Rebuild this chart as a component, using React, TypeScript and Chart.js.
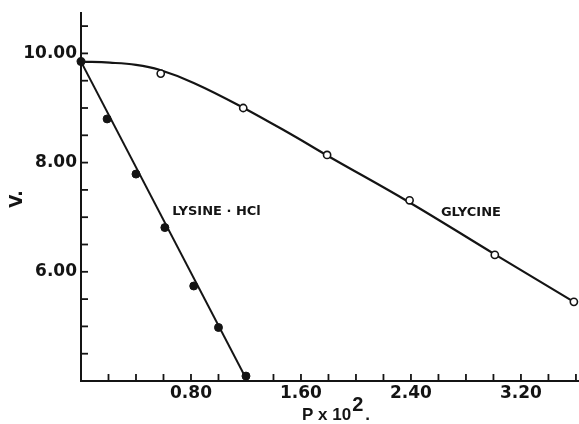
import React, { useEffect, useRef } from "react";
import { Chart, registerables } from "chart.js";

Chart.register(...registerables);

// ---- data ----
const lysineX = [0, 0.19, 0.4, 0.61, 0.82, 1.0, 1.2];
const lysineY = [9.85, 8.8, 7.79, 6.81, 5.74, 4.98, 4.09];
const lysineLineX = [0, 1.21];
const lysineLineY = [9.85, 4.0];

const glycineX = [0.58, 1.18, 1.79, 2.39, 3.01, 3.585];
const glycineY = [9.63, 9.0, 8.14, 7.31, 6.31, 5.45];
const glycineCurveX = [0, 0.21, 0.4, 0.57, 0.82, 1.17, 1.54, 1.79, 2.39, 3.01, 3.585];
const glycineCurveY = [9.85, 9.83, 9.79, 9.7, 9.46, 9.02, 8.5, 8.13, 7.27, 6.32, 5.45];

const xTickValues = [0.2, 0.4, 0.6, 0.8, 1.0, 1.2, 1.4, 1.6, 1.8, 2.0, 2.2, 2.4, 2.6, 2.8, 3.0, 3.2, 3.4, 3.6];
const xLabelValues = [0.8, 1.6, 2.4, 3.2];
const yTickValues = [4.5, 5.0, 5.5, 6.0, 6.5, 7.0, 7.5, 8.0, 8.5, 9.0, 9.5, 10.0, 10.5];
const yLabelValues = [6, 8, 10];

const annotationTexts = ["LYSINE · HCl", "GLYCINE"];
const annotationX = [0.986, 2.836];
const annotationY = [7.1, 7.09];

const INK = "#141414";
const FONT = "DejaVu Sans";

const near = (list: number[], v: number) => list.some((t) => Math.abs(t - v) < 1e-6);
const pts = (xs: number[], ys: number[]) => xs.map((x, i) => ({ x, y: ys[i] }));

const decorPlugin = {
  id: "decor",
  afterDraw(chart: any) {
    const ctx = chart.ctx;
    const xs = chart.scales.x;
    const ys = chart.scales.y;
    const area = chart.chartArea;
    ctx.save();
    ctx.strokeStyle = INK;
    ctx.lineWidth = 1.8;
    // inward tick marks
    xTickValues.forEach((v) => {
      const px = xs.getPixelForValue(v);
      ctx.beginPath();
      ctx.moveTo(px, area.bottom);
      ctx.lineTo(px, area.bottom - 7);
      ctx.stroke();
    });
    yTickValues.forEach((v) => {
      const py = ys.getPixelForValue(v);
      ctx.beginPath();
      ctx.moveTo(area.left, py);
      ctx.lineTo(area.left + 7, py);
      ctx.stroke();
    });
    // in-plot labels
    ctx.fillStyle = INK;
    ctx.font = `bold 13px "${FONT}"`;
    ctx.textAlign = "center";
    ctx.textBaseline = "middle";
    annotationTexts.forEach((t, i) => {
      ctx.fillText(t, xs.getPixelForValue(annotationX[i]), ys.getPixelForValue(annotationY[i]));
    });
    // x axis title: P x 10^2.
    ctx.textAlign = "left";
    ctx.textBaseline = "alphabetic";
    ctx.font = `bold 17px "Liberation Sans"`;
    const base = "P x 10";
    const startX = 302;
    ctx.fillText(base, startX, 420);
    const w = ctx.measureText(base).width;
    ctx.font = `bold 20px "Liberation Sans"`;
    ctx.fillText("2", startX + w + 1, 411);
    const w2 = ctx.measureText("2").width;
    ctx.font = `bold 17px "Liberation Sans"`;
    ctx.fillText(".", startX + w + w2 + 3, 420);
    // y axis title: V.
    ctx.translate(18, 199);
    ctx.rotate(-Math.PI / 2);
    ctx.textAlign = "center";
    ctx.textBaseline = "middle";
    ctx.font = `bold 17px "${FONT}"`;
    ctx.fillText("V.", 0, 0);
    ctx.restore();
  },
};

export default function App() {
  const canvasRef = useRef<HTMLCanvasElement | null>(null);

  useEffect(() => {
    if (!canvasRef.current) return;
    const tickFont = { family: FONT, size: 17, weight: "bold" as const };
    const chart = new Chart(canvasRef.current, {
      type: "scatter",
      data: {
        datasets: [
          {
            label: "Lysine·HCl points",
            data: pts(lysineX, lysineY),
            showLine: false,
            pointRadius: 4,
            pointBackgroundColor: INK,
            pointBorderColor: INK,
            pointBorderWidth: 1,
            clip: false,
            order: 0,
          },
          {
            label: "Glycine points",
            data: pts(glycineX, glycineY),
            showLine: false,
            pointRadius: 3.6,
            pointBackgroundColor: "#ffffff",
            pointBorderColor: INK,
            pointBorderWidth: 1.6,
            clip: false,
            order: 0,
          },
          {
            label: "Glycine curve",
            data: pts(glycineCurveX, glycineCurveY),
            showLine: true,
            pointRadius: 0,
            borderColor: INK,
            borderWidth: 2.2,
            tension: 0.4,
            order: 1,
          },
          {
            label: "Lysine·HCl line",
            data: pts(lysineLineX, lysineLineY),
            showLine: true,
            pointRadius: 0,
            borderColor: INK,
            borderWidth: 2,
            order: 1,
          },
        ],
      },
      options: {
        responsive: false,
        animation: false,
        events: [],
        layout: { autoPadding: false, padding: { top: 13, right: 1, left: 0, bottom: 0 } },
        plugins: { legend: { display: false }, tooltip: { enabled: false } },
        scales: {
          x: {
            type: "linear",
            position: "bottom",
            min: 0,
            max: 3.615,
            grid: { display: false, drawTicks: false },
            border: { display: true, color: INK, width: 2 },
            ticks: {
              padding: 2,
              color: INK,
              font: tickFont,
              autoSkip: false,
              maxRotation: 0,
              callback: (v: any) => (near(xLabelValues, Number(v)) ? Number(v).toFixed(2) : ""),
            },
            afterBuildTicks: (s: any) => {
              s.ticks = xTickValues.map((value) => ({ value }));
            },
            afterFit: (s: any) => {
              s.height = 43;
              s.paddingLeft = 0;
              s.paddingRight = 0;
            },
          },
          y: {
            type: "linear",
            min: 4.0,
            max: 10.74,
            grid: { display: false, drawTicks: false },
            border: { display: true, color: INK, width: 2 },
            ticks: {
              padding: 4,
              color: INK,
              font: tickFont,
              autoSkip: false,
              callback: (v: any) => (near(yLabelValues, Number(v)) ? Number(v).toFixed(2) : ""),
            },
            afterBuildTicks: (s: any) => {
              s.ticks = yTickValues.map((value) => ({ value }));
            },
            afterFit: (s: any) => {
              s.width = 81;
              s.paddingTop = 0;
              s.paddingBottom = 0;
            },
          },
        },
      },
      plugins: [decorPlugin],
    });
    return () => chart.destroy();
  }, []);

  return (
    <div style={{ position: "fixed", left: 0, top: 0, width: 579, height: 424, background: "#fff" }}>
      <canvas ref={canvasRef} width={579} height={424} style={{ display: "block" }} />
    </div>
  );
}
